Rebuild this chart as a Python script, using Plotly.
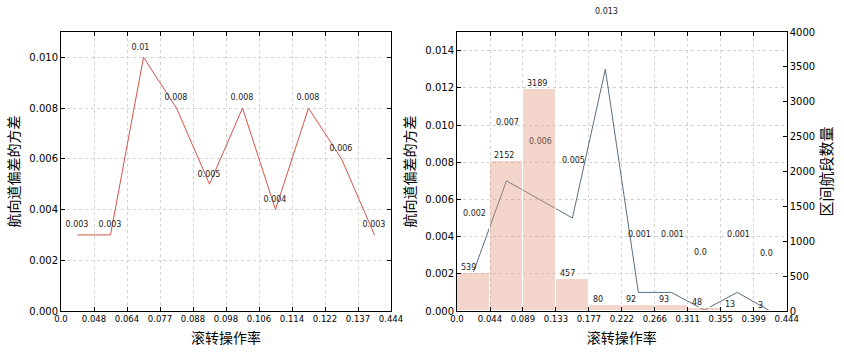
import plotly.graph_objects as go

# ---------------- data ----------------
left_ticklabels = ["0.0", "0.048", "0.064", "0.077", "0.088", "0.098",
                   "0.106", "0.114", "0.122", "0.137", "0.444"]
left_variance = [0.003, 0.003, 0.010, 0.008, 0.005, 0.008, 0.004, 0.008, 0.006, 0.003]

right_edges = [0.0, 0.0444, 0.0887, 0.1331, 0.1774, 0.2218,
               0.2662, 0.3105, 0.3549, 0.3992, 0.4436]
right_ticklabels = ["0.0", "0.044", "0.089", "0.133", "0.177", "0.222",
                    "0.266", "0.311", "0.355", "0.399", "0.444"]
right_counts = [539, 2152, 3189, 457, 80, 92, 93, 48, 13, 3]
right_variance = [0.0021, 0.007, 0.006, 0.005, 0.013, 0.001, 0.001, 0.00005, 0.001, 0.0]

x_title = "滚转操作率"
y_title = "航向道偏差的方差"
y2_title = "区间航段数量"

# ---------------- style ----------------
W, H = 844, 352
L_DOM = [61 / W, 391 / W]
R_DOM = [457 / W, 786.7 / W]
Y_DOM = [(H - 311) / H, (H - 32) / H]
LEFT_YMAX = 0.011
RIGHT_YMAX = 0.015
RIGHT_Y2MAX = 4000

CJK = "Noto Sans CJK SC"
NUM = "DejaVu Sans"
GRID = "#d2d2d2"
LABEL_COLOR = "#222222"
BAR_RGB = (226, 150, 124)
BAR_ALPHA = 0.4
LABEL_RGB = (34, 34, 34)
COVERED_LABEL = "rgb(%d,%d,%d)" % tuple(
    round(BAR_ALPHA * b + (1 - BAR_ALPHA) * t) for b, t in zip(BAR_RGB, LABEL_RGB))

def fmt(v):
    return str(round(v, 3))

# pixel -> data conversions for label offsets
l_px_x = (391 - 61) / len(left_variance)
l_px_y = (311 - 32) / LEFT_YMAX
r_px_y2 = (311 - 32) / RIGHT_Y2MAX
r_px_y = (311 - 32) / RIGHT_YMAX
R_LABEL_UP = 58  # px above point

left_x = [i + 0.5 for i in range(len(left_variance))]
right_centers = [(right_edges[i] + right_edges[i + 1]) / 2 for i in range(len(right_counts))]
right_widths = [right_edges[i + 1] - right_edges[i] for i in range(len(right_counts))]

fig = go.Figure()

# left line
fig.add_trace(go.Scatter(
    x=left_x, y=left_variance, mode="lines",
    line=dict(color="rgb(214,82,74)", width=1),
    xaxis="x", yaxis="y", showlegend=False, hoverinfo="skip"))
fig.add_trace(go.Scatter(
    x=[v - 12 / l_px_x for v in left_x],
    y=[v + 9.6 / l_px_y for v in left_variance],
    mode="text", text=[fmt(v) for v in left_variance],
    textposition="middle right",
    textfont=dict(family=NUM, size=8, color=LABEL_COLOR),
    xaxis="x", yaxis="y", showlegend=False, hoverinfo="skip", cliponaxis=False))

# right line (under bars)
fig.add_trace(go.Scatter(
    x=right_centers, y=right_variance, mode="lines",
    line=dict(color="rgb(88,110,132)", width=1),
    xaxis="x2", yaxis="y2", showlegend=False, hoverinfo="skip"))

# bars on right count axis
fig.add_trace(go.Bar(
    x=right_centers, y=right_counts, width=right_widths,
    marker=dict(color="rgba(%d,%d,%d,%s)" % (*BAR_RGB, BAR_ALPHA),
                line=dict(color="white", width=1)),
    xaxis="x2", yaxis="y3", showlegend=False, hoverinfo="skip"))

annotations = []
for e, c in zip(right_edges[:-1], right_counts):
    annotations.append(dict(
        x=e, y=c, xref="x2", yref="y3", text=str(c), showarrow=False,
        xanchor="left", yanchor="bottom", xshift=2.5, yshift=-1,
        font=dict(family=NUM, size=8, color=LABEL_COLOR)))

# right variance labels; those that sit inside a bar are tinted by the bar
for cx, v, c in zip(right_centers, right_variance, right_counts):
    label_px = v * r_px_y + R_LABEL_UP
    covered = label_px < c * r_px_y2
    annotations.append(dict(
        x=cx, y=v, xref="x2", yref="y2", text=fmt(v), showarrow=False,
        xanchor="left", yanchor="middle", xshift=-12.5, yshift=R_LABEL_UP,
        font=dict(family=NUM, size=8, color=COVERED_LABEL if covered else LABEL_COLOR)))

axis_common = dict(
    showline=True, linecolor="black", linewidth=1, mirror="ticks",
    ticks="inside", ticklen=4, tickcolor="black", tickwidth=1,
    showgrid=True, gridcolor=GRID, griddash="3px,3px", gridwidth=1,
    zeroline=False, automargin=False)

fig.update_layout(
    width=W, height=H,
    margin=dict(l=0, r=0, t=0, b=0),
    paper_bgcolor="white", plot_bgcolor="white",
    bargap=0,
    annotations=annotations,
    xaxis=dict(
        **axis_common, domain=L_DOM, anchor="y",
        range=[0, len(left_variance)],
        tickmode="array", tickvals=list(range(len(left_ticklabels))), ticktext=left_ticklabels,
        tickfont=dict(family=NUM, size=8.5, color="black"),
        title=dict(text=x_title, font=dict(family=CJK, size=14, color="black"), standoff=9)),
    yaxis=dict(
        **axis_common, domain=Y_DOM, anchor="x",
        range=[0, LEFT_YMAX], tickmode="linear", tick0=0, dtick=0.002, tickformat=".3f",
        tickfont=dict(family=NUM, size=10, color="black"),
        title=dict(text=y_title, font=dict(family=CJK, size=14, color="black"), standoff=6)),
    xaxis2=dict(
        **axis_common, domain=R_DOM, anchor="y2",
        range=[right_edges[0], right_edges[-1]],
        tickmode="array", tickvals=right_edges, ticktext=right_ticklabels,
        tickfont=dict(family=NUM, size=8.5, color="black"),
        title=dict(text=x_title, font=dict(family=CJK, size=14, color="black"), standoff=9)),
    yaxis2=dict(
        showline=True, linecolor="black", linewidth=1, mirror=True,
        ticks="inside", ticklen=4, tickcolor="black", automargin=False,
        showgrid=True, gridcolor=GRID, griddash="3px,3px", gridwidth=1, zeroline=False,
        domain=Y_DOM, anchor="x2",
        range=[0, RIGHT_YMAX], tickmode="linear", tick0=0, dtick=0.002, tickformat=".3f",
        tickfont=dict(family=NUM, size=10, color="black"),
        title=dict(text=y_title, font=dict(family=CJK, size=14, color="black"), standoff=6)),
    yaxis3=dict(
        overlaying="y2", side="right", anchor="x2", automargin=False,
        showline=True, linecolor="black", linewidth=1,
        ticks="inside", ticklen=4, tickcolor="black",
        showgrid=False, zeroline=False,
        range=[0, RIGHT_Y2MAX], tickmode="linear", tick0=0, dtick=500,
        tickfont=dict(family=NUM, size=10, color="black"),
        title=dict(text=y2_title, font=dict(family=CJK, size=15, color="black"), standoff=6)),
)

fig.write_html("out.html")
